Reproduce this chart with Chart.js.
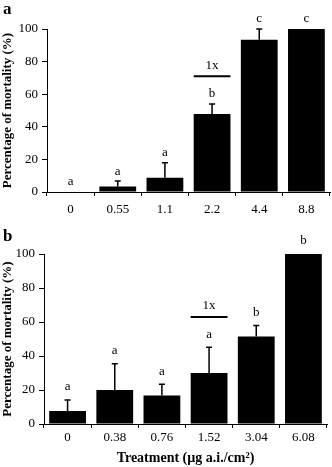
<!DOCTYPE html>
<html>
<head>
<meta charset="utf-8">
<script src="https://cdn.jsdelivr.net/npm/chart.js@4.4.0/dist/chart.umd.min.js"></script>
<style>
  body { margin: 0; background: #fff; }
  .panel { position: relative; width: 332px; }
</style>
</head>
<body>
<div class="panel" style="height:220px"><canvas id="chartA" width="332" height="220"></canvas></div>
<div class="panel" style="height:247px"><canvas id="chartB" width="332" height="247"></canvas></div>
<script>
// Panel a
const dosesA = ['0', '0.55', '1.1', '2.2', '4.4', '8.8'];
const mortalityA = [0, 3.3, 8.8, 47.9, 93.4, 100];
const errorA = [0, 3.4, 9.2, 6.1, 6.6, 0];
const lettersA = ['a', 'a', 'a', 'b', 'c', 'c'];
const oneXA = { index: 3, value: 71 };

// Panel b
const dosesB = ['0', '0.38', '0.76', '1.52', '3.04', '6.08'];
const mortalityB = [7.6, 20, 16.7, 30, 51.4, 100];
const errorB = [6.5, 15.5, 6.7, 15.1, 6.6, 0];
const lettersB = ['a', 'a', 'a', 'a', 'b', 'b'];
const oneXB = { index: 3, value: 63 };

const yTicks = [0, 20, 40, 60, 80, 100];

const FUENTE = "'Liberation Serif', 'Times New Roman', serif";

// Barras de error, letras, marca "1x" y etiqueta del panel
const marcas = {
  id: 'marcas',
  afterDatasetsDraw(chart, args, opts) {
    const ctx = chart.ctx;
    const y = chart.scales.y;
    const meta = chart.getDatasetMeta(0);
    ctx.save();
    ctx.strokeStyle = '#000';
    ctx.fillStyle = '#000';
    ctx.lineWidth = 1.5;
    ctx.textAlign = 'center';
    ctx.textBaseline = 'middle';
    ctx.font = '13px ' + FUENTE;

    opts.medias.forEach((m, i) => {
      const bar = meta.data[i];
      const base = y.getPixelForValue(m);
      const top = y.getPixelForValue(m + opts.errores[i]);
      if (opts.errores[i] > 0) {
        ctx.beginPath();
        ctx.moveTo(bar.x, base);
        ctx.lineTo(bar.x, top);
        ctx.moveTo(bar.x - 3, top);
        ctx.lineTo(bar.x + 3, top);
        ctx.stroke();
      }
      ctx.fillText(opts.letras[i], bar.x, top - opts.gap);
    });

    // linea "1x"
    const b = meta.data[opts.unoX.index];
    const ly = y.getPixelForValue(opts.unoX.value);
    ctx.lineWidth = 2;
    ctx.beginPath();
    ctx.moveTo(b.x - b.width / 2, ly);
    ctx.lineTo(b.x + b.width / 2, ly);
    ctx.stroke();
    ctx.fillText('1x', b.x, ly - 11);

    ctx.font = 'bold 17px ' + FUENTE;
    ctx.textAlign = 'left';
    ctx.fillText(opts.panel, 3, opts.panelY);
    ctx.restore();
  }
};

function crearGrafico(id, cfg) {
  return new Chart(document.getElementById(id), {
    type: 'bar',
    data: {
      labels: cfg.dosis,
      datasets: [{
        data: cfg.medias,
        backgroundColor: '#000',
        borderWidth: 0,
        barPercentage: 0.78,
        categoryPercentage: 1
      }]
    },
    plugins: [marcas],
    options: {
      responsive: false,
      animation: false,
      layout: { padding: { top: cfg.padTop, right: cfg.padRight, left: 0, bottom: 0 } },
      plugins: {
        legend: { display: false },
        tooltip: { enabled: false },
        marcas: {
          medias: cfg.medias,
          errores: cfg.errores,
          letras: cfg.letras,
          unoX: cfg.unoX,
          gap: cfg.gap,
          panel: cfg.panel,
          panelY: cfg.panelY
        }
      },
      scales: {
        x: {
          offset: true,
          grid: { offset: true, drawOnChartArea: false, tickLength: 4, color: '#000' },
          border: { color: '#000', width: 1 },
          ticks: { color: '#000', font: { family: FUENTE, size: 13 }, padding: cfg.xPad, maxRotation: 0 },
          title: {
            display: !!cfg.xTitulo,
            text: cfg.xTitulo || '',
            color: '#000',
            font: { family: FUENTE, size: 14, weight: 'bold' },
            padding: { top: 0, bottom: 0 }
          },
          afterFit: s => { s.height = cfg.xAlto; }
        },
        y: {
          min: 0,
          max: 100,
          afterBuildTicks: s => { s.ticks = yTicks.map(v => ({ value: v })); },
          grid: { drawOnChartArea: false, tickLength: 5, color: '#000' },
          border: { color: '#000', width: 1 },
          ticks: { color: '#000', font: { family: FUENTE, size: 13 }, padding: 4 },
          title: {
            display: true,
            text: 'Percentage of mortality (%)',
            color: '#000',
            font: { family: FUENTE, size: 13, weight: 'bold' },
            padding: { top: 0, bottom: 0 }
          },
          afterFit: s => { s.width = cfg.yAncho; }
        }
      }
    }
  });
}

crearGrafico('chartA', {
  dosis: dosesA, medias: mortalityA, errores: errorA, letras: lettersA, unoX: oneXA,
  gap: 10, panel: 'a', panelY: 10,
  padTop: 29, padRight: 2, yAncho: 47, xAlto: 28, xPad: 6
});

crearGrafico('chartB', {
  dosis: dosesB, medias: mortalityB, errores: errorB, letras: lettersB, unoX: oneXB,
  gap: 13, panel: 'b', panelY: 17,
  padTop: 34, padRight: 5, yAncho: 44, xAlto: 43, xPad: 2,
  xTitulo: 'Treatment (\u00b5g a.i./cm\u00b2)'
});
</script>
</body>
</html>
